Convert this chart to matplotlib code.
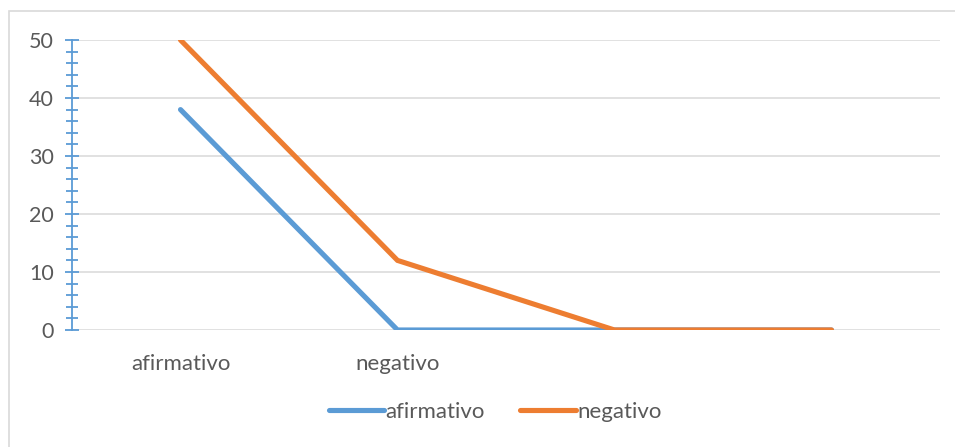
import matplotlib
matplotlib.use("Agg")
import matplotlib.pyplot as plt
from matplotlib.lines import Line2D
from matplotlib.patches import Rectangle
from matplotlib.ticker import MultipleLocator

categories = ["afirmativo", "negativo", "", ""]
afirmativo = [38, 0, 0, 0]
negativo = [50, 12, 0, 0]
y_ticks = [0, 10, 20, 30, 40, 50]

blue = "#5B9BD5"
orange = "#ED7D31"
text_color = "#595959"
grid_color = "#D9D9D9"

plt.rcParams["font.family"] = ["Lato", "DejaVu Sans"]

fig = plt.figure(figsize=(9.55, 4.47), dpi=100)
ax = fig.add_axes([72 / 955, 1 - 330 / 447, 868 / 955, 290 / 447])

# chart border (partly clipped at right/bottom)
fig.patches.append(Rectangle((9 / 955, -0.05), 1.1, 1 - 11 / 447 + 0.05,
                             transform=fig.transFigure, fill=False,
                             edgecolor=grid_color, linewidth=1.2))

lw = 3.7
x = range(len(categories))
ax.plot(x, afirmativo, color=blue, linewidth=lw, solid_capstyle="round",
        solid_joinstyle="miter", zorder=3)
ax.plot(x, negativo, color=orange, linewidth=lw, solid_capstyle="round",
        solid_joinstyle="miter", zorder=4)

ax.set_xlim(-0.5, len(categories) - 0.5)
ax.set_ylim(0, 50)
ax.set_yticks(y_ticks)
ax.yaxis.set_minor_locator(MultipleLocator(2))
ax.set_xticks(list(x))
ax.set_xticklabels(categories)

for s in ["top", "right", "bottom"]:
    ax.spines[s].set_visible(False)
ax.spines["left"].set_color(blue)
ax.spines["left"].set_linewidth(1.3)
ax.spines["left"].set_zorder(5)

ax.yaxis.grid(True, color=grid_color, linewidth=1.1)
ax.set_axisbelow(True)
ax.tick_params(axis="y", which="major", direction="inout", length=10,
               width=1.3, color=blue, labelsize=15.5, labelcolor=text_color, pad=8)
ax.tick_params(axis="y", which="minor", direction="inout", length=8,
               width=1.3, color=blue)
ax.tick_params(axis="x", length=0, labelsize=16, labelcolor=text_color, pad=17)

handles = [Line2D([0], [0], color=blue, linewidth=lw, solid_capstyle="round"),
           Line2D([0], [0], color=orange, linewidth=lw, solid_capstyle="round")]
fig.legend(handles, ["afirmativo", "negativo"], loc="center",
           bbox_to_anchor=(495 / 955, 1 - 412 / 447), ncol=2, frameon=False,
           fontsize=16, labelcolor=text_color, handlelength=2.5,
           handletextpad=0.05, columnspacing=1.6)

fig.savefig("out.png", dpi=100)
